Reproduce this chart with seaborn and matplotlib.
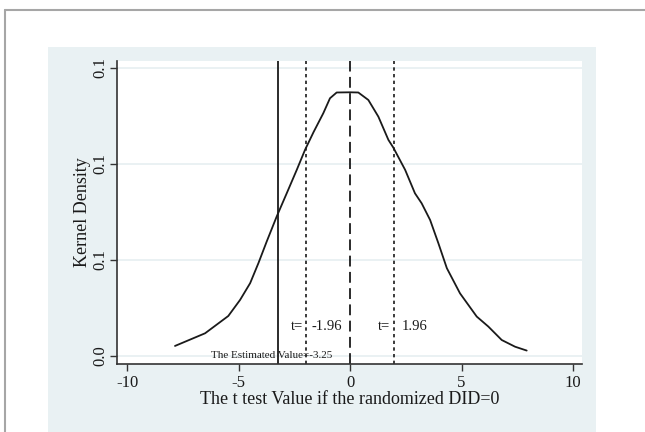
import numpy as np
import pandas as pd
import matplotlib
matplotlib.use("Agg")
import matplotlib.pyplot as plt
import seaborn as sns
from matplotlib.ticker import FormatStrFormatter
from matplotlib.patches import Rectangle
from matplotlib.lines import Line2D

# kernel density of placebo t values
t_values = [-7.85, -6.50, -5.46, -4.93, -4.48, -4.11, -3.74, -3.29, -2.84, -2.39,
            -2.02, -1.64, -1.20, -0.90, -0.60, 0.0, 0.37, 0.82, 1.27, 1.72,
            1.94, 2.47, 2.91, 3.21, 3.59, 3.96, 4.34, 4.93, 5.68, 6.20,
            6.80, 7.40, 7.92]
density = [0.0052, 0.0118, 0.0208, 0.0292, 0.0379, 0.0483, 0.0595, 0.0726, 0.0847, 0.0969,
           0.1073, 0.1165, 0.1264, 0.1342, 0.1372, 0.1373, 0.1372, 0.1333, 0.1246, 0.1125,
           0.1085, 0.0969, 0.0847, 0.0795, 0.0708, 0.0587, 0.0457, 0.0326, 0.0205, 0.0153,
           0.0083, 0.0048, 0.0028]

estimated = -3.25
crit_low, crit_high = -1.96, 1.96
x_ticks = [-10, -5, 0, 5, 10]
y_ticks = [0.0, 0.05, 0.10, 0.15]

df = pd.DataFrame({"t": t_values, "kdensity": density})

sns.set_style("white")
plt.rcParams["font.family"] = ["Liberation Serif", "DejaVu Serif"]
plt.rcParams["axes.unicode_minus"] = False

panel = "#e9f1f3"
fig = plt.figure(figsize=(6.45, 4.32), dpi=100)
fig.patch.set_facecolor("white")

# light panel behind the plot and the outer grey frame
fig.patches.append(Rectangle((48 / 645, 0), 548 / 645, 1 - 47 / 432,
                             transform=fig.transFigure, facecolor=panel,
                             edgecolor="none", zorder=-1))
fig.lines.append(Line2D([5 / 645, 1], [1 - 10 / 432, 1 - 10 / 432],
                        transform=fig.transFigure, color="#a6a6a6", lw=1.5))
fig.lines.append(Line2D([5 / 645, 5 / 645], [0, 1 - 10 / 432],
                        transform=fig.transFigure, color="#a6a6a6", lw=1.5))

ax = fig.add_axes([117 / 645, 1 - 364 / 432, 465 / 645, 303 / 432])
ax.set_facecolor("white")

for yv in y_ticks:
    ax.axhline(yv, color="#e6eff1", lw=1.2, zorder=0)

sns.lineplot(data=df, x="t", y="kdensity", ax=ax, color="#1a1a1a", lw=1.3)

ax.axvline(estimated, color="#1a1a1a", lw=1.3)
ax.axvline(crit_low, color="#1a1a1a", lw=1.2, linestyle=(0, (2, 2)))
ax.axvline(crit_high, color="#1a1a1a", lw=1.2, linestyle=(0, (2, 2)))
ax.axvline(0, color="#1a1a1a", lw=1.3, linestyle=(0, (6, 3)))

ax.text(crit_low - 0.15, 0.0151, "t=", ha="right", va="center", fontsize=10.5, color="#1a1a1a")
ax.text(crit_low + 0.25, 0.0151, "-1.96", ha="left", va="center", fontsize=10.5, color="#1a1a1a")
ax.text(crit_high - 0.15, 0.0151, "t=", ha="right", va="center", fontsize=10.5, color="#1a1a1a")
ax.text(crit_high + 0.35, 0.0151, "1.96", ha="left", va="center", fontsize=10.5, color="#1a1a1a")
ax.text(-3.5, 0.0002, f"The Estimated Value={estimated}", ha="center", va="center",
        fontsize=8, color="#1a1a1a")

ax.set_xlim(-10.45, 10.4)
ax.set_ylim(-0.0042, 0.1536)
ax.set_xticks(x_ticks)
ax.set_yticks(y_ticks)
ax.yaxis.set_major_formatter(FormatStrFormatter("%.1f"))
for lab in ax.get_yticklabels():
    lab.set_rotation(90)
    lab.set_va("center")

ax.tick_params(axis="both", direction="out", length=5, width=1, color="#333333",
               labelsize=12, labelcolor="#1a1a1a", pad=3, left=True, bottom=True)
ax.tick_params(axis="y", pad=1)
for side in ["top", "right"]:
    ax.spines[side].set_visible(False)
for side in ["left", "bottom"]:
    ax.spines[side].set_color("#333333")
    ax.spines[side].set_linewidth(1.2)

ax.set_xlabel("The t test Value if the randomized DID=0", fontsize=13, color="#1a1a1a", labelpad=0)
ax.set_ylabel("Kernel Density", fontsize=13, color="#1a1a1a", labelpad=1)

fig.savefig("out.png", dpi=100)
